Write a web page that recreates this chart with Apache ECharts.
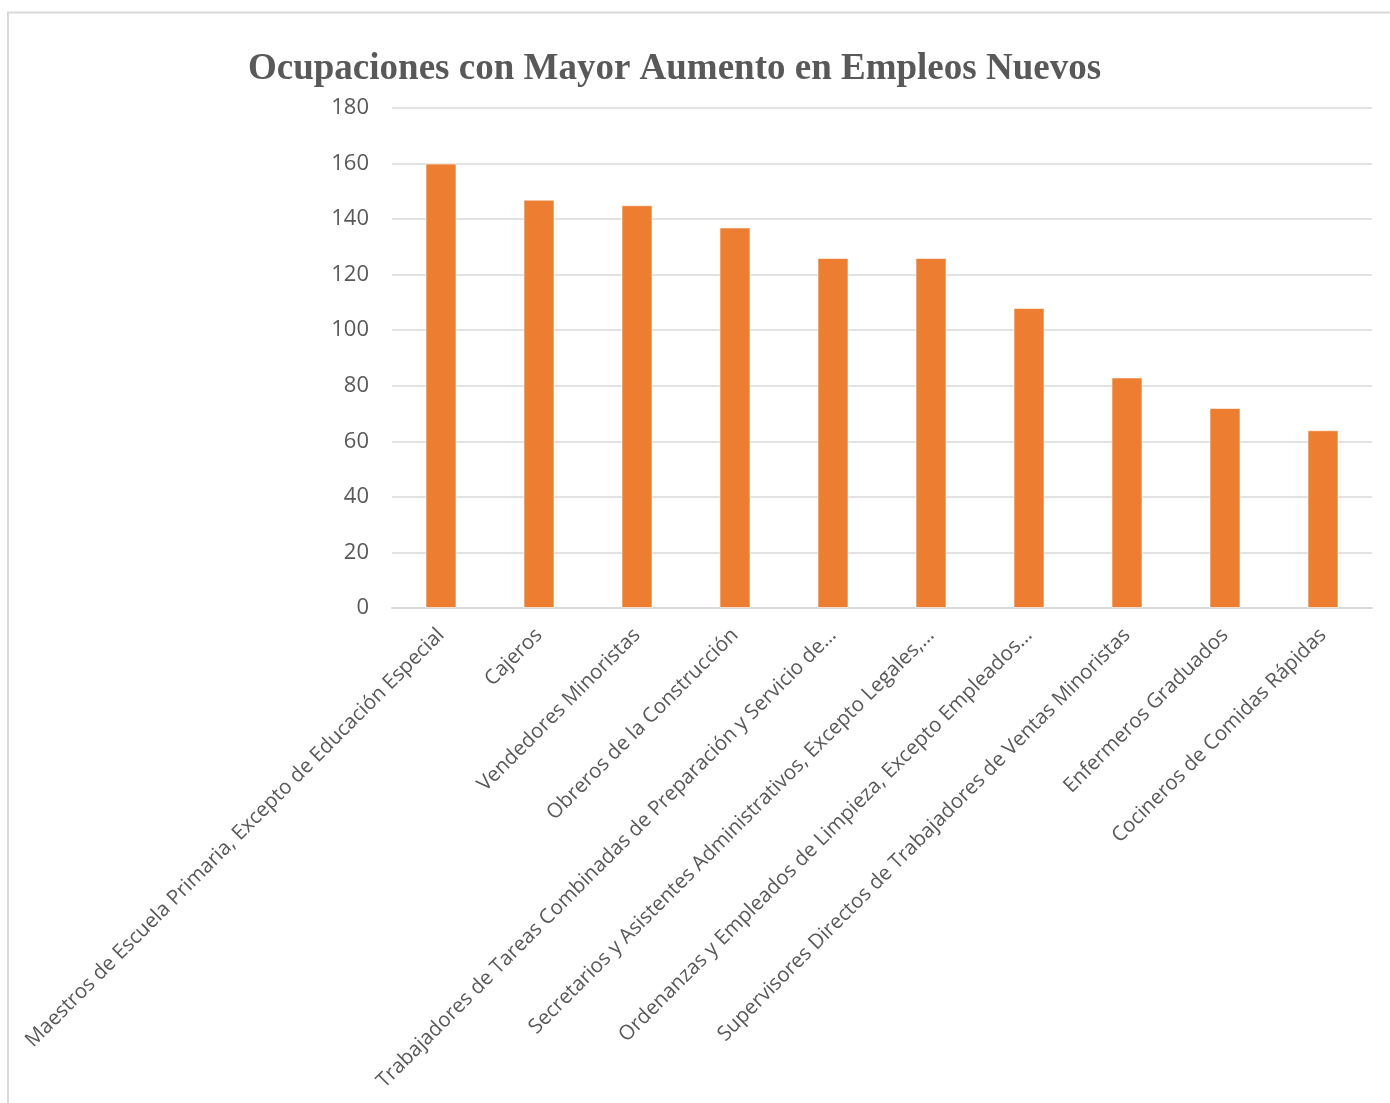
<!DOCTYPE html>
<html>
<head>
<meta charset="utf-8">
<script src="https://cdn.jsdelivr.net/npm/echarts@6/dist/echarts.min.js"></script>
<style>
  html, body { margin: 0; padding: 0; background: #fff; }
  #chart { width: 1390px; height: 1103px; }
</style>
</head>
<body>
<div id="chart"></div>
<script>
const titleText = 'Ocupaciones con Mayor Aumento en Empleos Nuevos';

const categories = [
  'Maestros de Escuela Primaria, Excepto de Educación Especial',
  'Cajeros',
  'Vendedores Minoristas',
  'Obreros de la Construcción',
  'Trabajadores de Tareas Combinadas de Preparación y Servicio de…',
  'Secretarios y Asistentes Administrativos, Excepto Legales,…',
  'Ordenanzas y Empleados de Limpieza, Excepto Empleados…',
  'Supervisores Directos de Trabajadores de Ventas Minoristas',
  'Enfermeros Graduados',
  'Cocineros de Comidas Rápidas'
];

const newJobs = [160, 147, 145, 137, 126, 126, 108, 83, 72, 64];

const chart = echarts.init(document.getElementById('chart'));

const labelFont = '"Open Sans", "Noto Sans", sans-serif';

chart.setOption({
  backgroundColor: '#ffffff',
  animation: false,
  title: {
    text: titleText,
    left: 243,
    top: 46,
    textStyle: {
      fontFamily: '"Liberation Serif", "DejaVu Serif", serif',
      fontWeight: 'bold',
      fontSize: 37,
      color: '#595959'
    }
  },
  graphic: [
    {
      type: 'polyline',
      shape: { points: [[8, 1103], [8, 12.5], [1390, 12.5]] },
      style: { stroke: '#d9d9d9', lineWidth: 2, fill: null }
    }
  ],
  grid: {
    left: 392,
    right: 18,
    top: 108,
    bottom: 495
  },
  xAxis: {
    type: 'category',
    data: categories,
    axisLine: { show: true, lineStyle: { color: '#d9d9d9', width: 2 } },
    axisTick: { show: false },
    axisLabel: {
      interval: 0,
      rotate: 45,
      margin: 24,
      fontFamily: labelFont,
      fontSize: 20.5,
      color: '#595959'
    }
  },
  yAxis: {
    type: 'value',
    min: 0,
    max: 180,
    interval: 20,
    axisLine: { show: false },
    axisTick: { show: false },
    splitLine: { lineStyle: { color: '#d9d9d9', width: 1.5 } },
    axisLabel: {
      margin: 23,
      fontFamily: labelFont,
      fontSize: 22,
      color: '#595959'
    }
  },
  series: [
    {
      type: 'bar',
      data: newJobs,
      barWidth: 31,
      itemStyle: {
        color: '#ED7D31',
        borderColor: 'rgba(255,255,255,0.6)',
        borderWidth: 1
      }
    }
  ]
});
</script>
</body>
</html>
